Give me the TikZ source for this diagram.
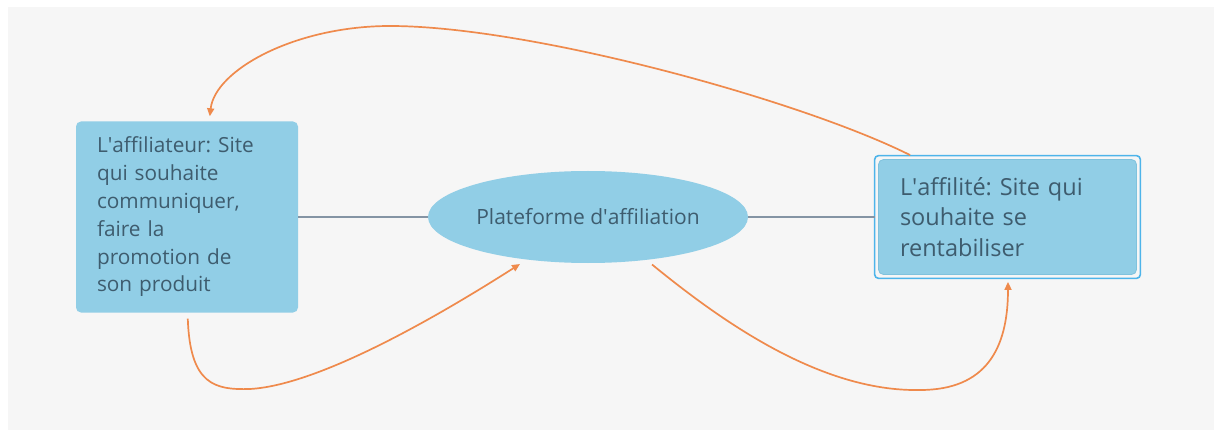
\documentclass[tikz,border=0pt]{standalone}
\usepackage{fontspec}
\setmainfont{Open Sans}
\usetikzlibrary{arrows.meta,calc,shapes.geometric}
\frenchspacing

\definecolor{pagebg}{HTML}{F6F6F6}
\definecolor{boxfill}{HTML}{91CEE6}
\definecolor{boxedge}{HTML}{7FC2DD}
\definecolor{selblue}{HTML}{4DB4EA}
\definecolor{txt}{HTML}{3E5C6E}
\definecolor{flow}{HTML}{EF8A4C}
\definecolor{link}{HTML}{8494A4}

\newcommand{\apos}{\textquotesingle}

\tikzset{
  topic/.style={fill=boxfill, rounded corners=5pt, text=txt, align=left, inner sep=0pt},
  hub/.style={ellipse, fill=boxfill, text=txt, inner sep=0pt,
              minimum width=320pt, minimum height=92pt, font=\fontsize{21}{24}\selectfont},
  linkline/.style={draw=link, line width=1.5pt},
  flowarrow/.style={draw=flow, line width=1.7pt,
                    -{Triangle[length=8pt,width=7pt]}},
}

\begin{document}
\begin{tikzpicture}[x=1pt,y=-1pt]
  % canvas
  \useasboundingbox (0,0) rectangle (1214,430);
  \fill[white] (0,0) rectangle (1214,430);
  \fill[pagebg] (8,7) rectangle (1214,430);

  % left topic
  \node[topic, minimum width=222pt, minimum height=191pt, text width=180pt,
        font=\fontsize{20.8}{27.8}\selectfont] (aff) at (187,217)
    {L\apos affiliateur: Site\\qui souhaite\\communiquer,\\faire la\\promotion de\\son produit};

  % central hub
  \node[hub] (plat) at (588,217) {Plateforme d\apos affiliation};

  % right topic (selected: outer frame + inner box)
  \node[topic, draw=boxedge, line width=0.8pt, minimum width=258pt, minimum height=115pt,
        text width=215pt, font=\fontsize{23.5}{30.5}\selectfont] (site) at (1007.5,217)
    {L\apos affilité: Site qui\\souhaite se\\rentabiliser};
  \draw[selblue, line width=1.6pt, rounded corners=4pt]
    ($(site.north west)+(-3.5,-3.5)$) rectangle ($(site.south east)+(3.5,3.5)$);
  \coordinate (siteW) at ($(site.west)+(-3.5,0)$);

  % plain links
  \draw[linkline] (aff.east) -- (plat.west);
  \draw[linkline] (plat.east) -- (siteW);

  % flow arrows
  \coordinate (s1) at ($(site.north west)+(32,-4)$);
  \coordinate (t1) at ($(aff.north west)+(134,-5)$);
  \draw[flowarrow] (s1) .. controls (800,100) and (530,26) .. (390,26)
                        .. controls (295,26) and (215,70) .. (t1);

  \coordinate (s2) at ($(aff.south west)+(112,6)$);
  \coordinate (t2) at ($(plat.center)+(-68,47)$);
  \draw[flowarrow] (s2) .. controls (190,385) and (215,390) .. (250,389)
                        .. controls (320,385) and (440,315) .. (t2);

  \coordinate (s3) at ($(plat.center)+(64,47.5)$);
  \coordinate (t3) at ($(site.south)+(0.5,7)$);
  \draw[flowarrow] (s3) .. controls (720,320) and (820,392) .. (920,390)
                        .. controls (985,390) and (1008,350) .. (t3);
\end{tikzpicture}
\end{document}
